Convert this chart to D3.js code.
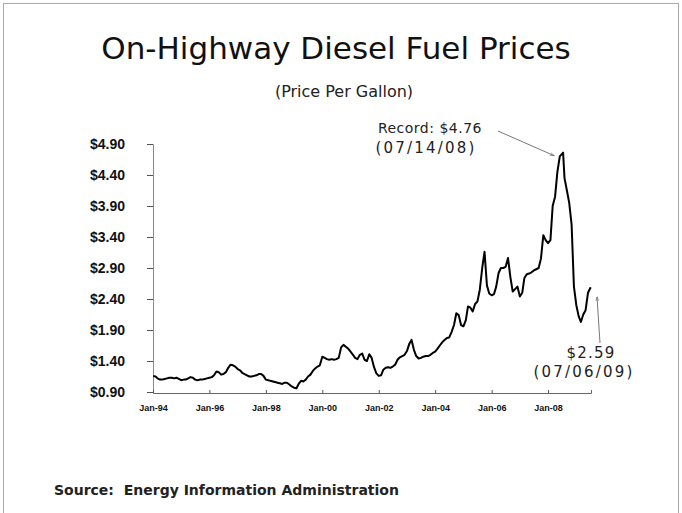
<!DOCTYPE html>
<html>
<head>
<meta charset="utf-8">
<script src="https://cdn.jsdelivr.net/npm/d3@7"></script>
<style>
  body { margin: 0; background: #fff; }
  svg { display: block; font-family: "DejaVu Sans", Verdana, sans-serif; }
</style>
</head>
<body>
<svg width="682" height="513"></svg>
<script>
// monthly on-highway diesel prices
const dates = [
  '1994-01-03', '1994-02-01', '1994-03-01', '1994-04-01', '1994-05-01', '1994-06-01',
  '1994-07-01', '1994-08-01', '1994-09-01', '1994-10-01', '1994-11-01', '1994-12-01',
  '1995-01-01', '1995-02-01', '1995-03-01', '1995-04-01', '1995-05-01', '1995-06-01',
  '1995-07-01', '1995-08-01', '1995-09-01', '1995-10-01', '1995-11-01', '1995-12-01',
  '1996-01-01', '1996-02-01', '1996-03-01', '1996-04-01', '1996-05-01', '1996-06-01',
  '1996-07-01', '1996-08-01', '1996-09-01', '1996-10-01', '1996-11-01', '1996-12-01',
  '1997-01-01', '1997-02-01', '1997-03-01', '1997-04-01', '1997-05-01', '1997-06-01',
  '1997-07-01', '1997-08-01', '1997-09-01', '1997-10-01', '1997-11-01', '1997-12-01',
  '1998-01-01', '1998-02-01', '1998-03-01', '1998-04-01', '1998-05-01', '1998-06-01',
  '1998-07-01', '1998-08-01', '1998-09-01', '1998-10-01', '1998-11-01', '1998-12-01',
  '1999-01-01', '1999-02-01', '1999-03-01', '1999-04-01', '1999-05-01', '1999-06-01',
  '1999-07-01', '1999-08-01', '1999-09-01', '1999-10-01', '1999-11-01', '1999-12-01',
  '2000-01-01', '2000-02-01', '2000-03-01', '2000-04-01', '2000-05-01', '2000-06-01',
  '2000-07-01', '2000-08-01', '2000-09-01', '2000-10-01', '2000-11-01', '2000-12-01',
  '2001-01-01', '2001-02-01', '2001-03-01', '2001-04-01', '2001-05-01', '2001-06-01',
  '2001-07-01', '2001-08-01', '2001-09-01', '2001-10-01', '2001-11-01', '2001-12-01',
  '2002-01-01', '2002-02-01', '2002-03-01', '2002-04-01', '2002-05-01', '2002-06-01',
  '2002-07-01', '2002-08-01', '2002-09-01', '2002-10-01', '2002-11-01', '2002-12-01',
  '2003-01-01', '2003-02-01', '2003-03-01', '2003-04-01', '2003-05-01', '2003-06-01',
  '2003-07-01', '2003-08-01', '2003-09-01', '2003-10-01', '2003-11-01', '2003-12-01',
  '2004-01-01', '2004-02-01', '2004-03-01', '2004-04-01', '2004-05-01', '2004-06-01',
  '2004-07-01', '2004-08-01', '2004-09-01', '2004-10-01', '2004-11-01', '2004-12-01',
  '2005-01-01', '2005-02-01', '2005-03-01', '2005-04-01', '2005-05-01', '2005-06-01',
  '2005-07-01', '2005-08-01', '2005-09-01', '2005-10-01', '2005-11-01', '2005-12-01',
  '2006-01-01', '2006-02-01', '2006-03-01', '2006-04-01', '2006-05-01', '2006-06-01',
  '2006-07-01', '2006-08-01', '2006-09-01', '2006-10-01', '2006-11-01', '2006-12-01',
  '2007-01-01', '2007-02-01', '2007-03-01', '2007-04-01', '2007-05-01', '2007-06-01',
  '2007-07-01', '2007-08-01', '2007-09-01', '2007-10-01', '2007-11-01', '2007-12-01',
  '2008-01-01', '2008-02-01', '2008-03-01', '2008-04-01', '2008-05-01', '2008-06-01',
  '2008-07-14', '2008-08-01', '2008-09-01', '2008-10-01', '2008-11-01', '2008-12-01',
  '2009-01-01', '2009-02-01', '2009-03-01', '2009-04-01', '2009-05-01', '2009-06-01',
  '2009-07-06'
];

const prices = [
  1.16, 1.15, 1.12, 1.10, 1.10, 1.11, 1.12, 1.13, 1.13, 1.12, 1.13, 1.11,
  1.09, 1.10, 1.10, 1.12, 1.14, 1.13, 1.10, 1.09, 1.10, 1.10, 1.11, 1.12,
  1.13, 1.14, 1.17, 1.23, 1.22, 1.18, 1.19, 1.22, 1.29, 1.34, 1.33, 1.31,
  1.27, 1.25, 1.21, 1.19, 1.17, 1.15, 1.15, 1.16, 1.17, 1.19, 1.19, 1.16,
  1.10, 1.09, 1.08, 1.07, 1.06, 1.05, 1.04, 1.03, 1.05, 1.05, 1.02, 0.99,
  0.97, 0.96, 1.03, 1.08, 1.07, 1.10, 1.15, 1.18, 1.24, 1.28, 1.31, 1.33,
  1.47, 1.45, 1.43, 1.42, 1.43, 1.42, 1.43, 1.45, 1.62, 1.66, 1.63, 1.60,
  1.55, 1.50, 1.45, 1.43, 1.50, 1.52, 1.42, 1.40, 1.51, 1.45, 1.30, 1.20,
  1.16, 1.17, 1.26, 1.29, 1.30, 1.29, 1.31, 1.34, 1.42, 1.46, 1.48, 1.50,
  1.56, 1.68, 1.74, 1.58, 1.48, 1.44, 1.45, 1.47, 1.48, 1.48, 1.50, 1.53,
  1.55, 1.60, 1.65, 1.70, 1.74, 1.77, 1.78, 1.87, 1.98, 2.17, 2.14, 1.98,
  1.96, 2.06, 2.28, 2.26, 2.20, 2.32, 2.36, 2.55, 2.90, 3.16, 2.62, 2.49,
  2.46, 2.48, 2.60, 2.82, 2.90, 2.90, 2.92, 3.06, 2.75, 2.52, 2.56, 2.60,
  2.44, 2.50, 2.74, 2.80, 2.81, 2.83, 2.86, 2.88, 2.90, 3.05, 3.43, 3.35,
  3.30, 3.35, 3.90, 4.05, 4.45, 4.70, 4.76, 4.35, 4.15, 3.95, 3.60, 2.60,
  2.30, 2.12, 2.03, 2.15, 2.22, 2.50, 2.59
];

const yTicks = [0.90, 1.40, 1.90, 2.40, 2.90, 3.40, 3.90, 4.40, 4.90];
const xTickYears = [1994, 1996, 1998, 2000, 2002, 2004, 2006, 2008];

const parse = d3.timeParse('%Y-%m-%d');
const series = dates.map((d, i) => ({date: parse(d), price: prices[i]}));

const svg = d3.select('svg');

// page frame
svg.append('rect')
    .attr('x', 3.5)
    .attr('y', 3.5)
    .attr('width', 675)
    .attr('height', 530)
    .attr('fill', 'none')
    .attr('stroke', '#aaa');

svg.append('text')
    .attr('x', 336)
    .attr('y', 59)
    .attr('text-anchor', 'middle')
    .style('font-size', '31px')
    .attr('fill', '#111')
    .text('On-Highway Diesel Fuel Prices');

svg.append('text')
    .attr('x', 344)
    .attr('y', 97)
    .attr('text-anchor', 'middle')
    .style('font-size', '16px')
    .attr('fill', '#222')
    .text('(Price Per Gallon)');

const xScale = d3.scaleTime()
    .domain([parse('1994-01-01'), parse('2009-07-10')])
    .range([153, 591]);
const yScale = d3.scaleLinear()
    .domain([0.90, 4.90])
    .range([392, 144]);

const yAxis = d3.axisLeft(yScale)
    .tickValues(yTicks)
    .tickFormat(d3.format('$.2f'))
    .tickSize(6)
    .tickPadding(22);
const yAxisG = svg.append('g')
    .attr('transform', 'translate(153, 0)')
    .call(yAxis);
yAxisG.select('.domain').attr('stroke', '#888');
yAxisG.selectAll('.tick line').attr('stroke', '#555');
yAxisG.selectAll('text')
    .style('font-size', '14px')
    .style('font-weight', 'bold')
    .attr('fill', '#111');

const xAxis = d3.axisBottom(xScale)
    .tickValues(xTickYears.map(y => new Date(y, 0, 1)))
    .tickFormat(d3.timeFormat('%b-%y'))
    .tickSize(-3)
    .tickPadding(12);
const xAxisG = svg.append('g')
    .attr('transform', 'translate(0, 393)')
    .call(xAxis);
xAxisG.select('.domain').attr('stroke', '#666');
xAxisG.selectAll('.tick line').attr('stroke', '#555');
xAxisG.selectAll('text')
    .style('font-size', '9px')
    .style('font-weight', 'bold')
    .attr('fill', '#111');

const line = d3.line()
    .x(d => xScale(d.date))
    .y(d => yScale(d.price));
svg.append('path')
    .attr('d', line(series))
    .attr('fill', 'none')
    .attr('stroke', '#000')
    .attr('stroke-width', 2)
    .attr('stroke-linejoin', 'round');

// annotations
const peak = series[d3.maxIndex(series, d => d.price)];
const last = series[series.length - 1];

svg.append('text')
    .attr('x', 482)
    .attr('y', 133)
    .attr('text-anchor', 'end')
    .style('font-size', '14px')
    .style('letter-spacing', '0.5px')
    .attr('fill', '#222')
    .text('Record: $' + d3.format('.2f')(peak.price));
svg.append('text')
    .attr('x', 426)
    .attr('y', 153)
    .attr('text-anchor', 'middle')
    .style('font-size', '15px')
    .style('letter-spacing', '2.2px')
    .attr('fill', '#222')
    .text('(' + d3.timeFormat('%m/%d/%y')(peak.date) + ')');

svg.append('defs').append('marker')
    .attr('id', 'head')
    .attr('viewBox', '0 0 10 10')
    .attr('refX', 9)
    .attr('refY', 5)
    .attr('markerWidth', 6)
    .attr('markerHeight', 6)
    .attr('orient', 'auto')
    .append('path')
    .attr('d', 'M0,2 L10,5 L0,8')
    .attr('fill', 'none')
    .attr('stroke', '#555');

svg.append('line')
    .attr('x1', 498)
    .attr('y1', 131)
    .attr('x2', xScale(peak.date) - 9)
    .attr('y2', yScale(peak.price) + 3)
    .attr('stroke', '#555')
    .attr('stroke-width', 0.8)
    .attr('marker-end', 'url(#head)');

svg.append('text')
    .attr('x', 591)
    .attr('y', 358)
    .attr('text-anchor', 'middle')
    .style('font-size', '15px')
    .style('letter-spacing', '1.2px')
    .attr('fill', '#222')
    .text('$' + d3.format('.2f')(last.price));
svg.append('text')
    .attr('x', 584)
    .attr('y', 377)
    .attr('text-anchor', 'middle')
    .style('font-size', '15px')
    .style('letter-spacing', '2.2px')
    .attr('fill', '#222')
    .text('(' + d3.timeFormat('%m/%d/%y')(last.date) + ')');

svg.append('line')
    .attr('x1', 600)
    .attr('y1', 343)
    .attr('x2', 597)
    .attr('y2', 297)
    .attr('stroke', '#555')
    .attr('stroke-width', 0.8)
    .attr('marker-end', 'url(#head)');

svg.append('text')
    .attr('x', 54)
    .attr('y', 495)
    .style('font-size', '14px')
    .style('font-weight', 'bold')
    .attr('fill', '#222')
    .style('white-space', 'pre')
    .text('Source:  Energy Information Administration');
</script>
</body>
</html>
